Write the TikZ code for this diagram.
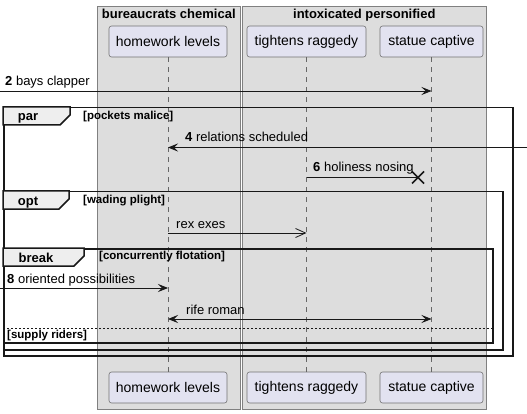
\documentclass[tikz,border=0pt]{standalone}
\usepackage{fontspec}
\setmainfont{Liberation Sans}
\usepackage{xcolor}
\usetikzlibrary{arrows.meta, calc, positioning}
\definecolor{partfill}{HTML}{E2E2F0}
\definecolor{boxfill}{HTML}{DDDDDD}
\definecolor{tabfill}{HTML}{EEEEEE}
\definecolor{ink}{HTML}{181818}
\newcommand{\msgfont}{\fontsize{13}{15}\selectfont}

\begin{document}
\begin{tikzpicture}[x=1pt, y=-1pt,
    >={Stealth[length=10pt, width=8pt, inset=4pt]},
    grp/.style={draw=black!50, fill=boxfill, line width=0.6pt, anchor=north west, inner sep=0pt},
    grptitle/.style={anchor=base, inner sep=0pt, font=\bfseries\fontsize{13}{15}\selectfont},
    part/.style={draw=black!55, fill=partfill, rounded corners=2.5pt, line width=0.6pt, minimum height=31pt, inner sep=0pt, font=\fontsize{14}{16}\selectfont},
    life/.style={draw=black!60, line width=0.6pt, dash pattern=on 5pt off 5pt},
    msg/.style={draw=ink, line width=0.8pt, ->},
    bmsg/.style={draw=ink, line width=0.8pt, <->},
    amsg/.style={draw=ink, line width=0.8pt, -{Straight Barb[length=10pt, width=9pt, line width=0.8pt]}},
    lbl/.style={anchor=base west, inner sep=0pt, font=\msgfont},
    frm/.style={draw=ink, line width=1.5pt, anchor=north west, inner sep=0pt},
    tab/.style={draw=ink, line width=1.5pt, fill=tabfill},
    tablbl/.style={anchor=base, inner sep=0pt, font=\bfseries\fontsize{13}{15}\selectfont},
    guard/.style={anchor=west, inner sep=0pt, font=\bfseries\fontsize{11.5}{13}\selectfont}]

    \useasboundingbox (0,0) rectangle (527,414);

    \node[grp, minimum width=143pt, minimum height=403pt] (gbc) at (97,6) {};
    \node[grp, minimum width=244pt, minimum height=403pt] (gip) at (242,6) {};
    \node[grptitle] (gbct) at ($(gbc.north)+(0,13)$) {bureaucrats chemical};
    \node[grptitle] (gipt) at ($(gip.north)+(0,13)$) {intoxicated personified};

    \node[part, minimum width=118pt] (hl) at (168,41.5) {homework levels};
    \node[part, minimum width=119pt] (tr) at (306.5,41.5) {tightens raggedy};
    \node[part, minimum width=103pt] (sc) at (431.5,41.5) {statue captive};
    \node[part, minimum width=118pt] (hlb) at (168,387.5) {homework levels};
    \node[part, minimum width=119pt] (trb) at (306.5,387.5) {tightens raggedy};
    \node[part, minimum width=103pt] (scb) at (431.5,387.5) {statue captive};

    \draw[life] (hl) -- (hlb);
    \draw[life] (tr) -- (trb);
    \draw[life] (sc) -- (scb);

    \node[frm, minimum width=509pt, minimum height=248pt] (par) at (3,107) {};
    \draw[tab] (par.north west) -- ++(67,0) -- ++(0,8) -- ++(-10,10) -- ($(par.north west)+(0,18)$) -- cycle;
    \node[tablbl] (parl) at ($(par.north west)+(25,14)$) {par};
    \node[guard] (parg) at ($(par.north west)+(80,10)$) {[pockets malice]};

    \node[frm, minimum width=499pt, minimum height=158pt] (opt) at (3,191) {};
    \draw[tab] (opt.north west) -- ++(66,0) -- ++(0,8) -- ++(-10,10) -- ($(opt.north west)+(0,18)$) -- cycle;
    \node[tablbl] (optl) at ($(opt.north west)+(25,14)$) {opt};
    \node[guard] (optg) at ($(opt.north west)+(80,10)$) {[wading plight]};

    \node[frm, minimum width=489pt, minimum height=94pt] (brk) at (3,248) {};
    \draw[tab] (brk.north west) -- ++(81,0) -- ++(0,8) -- ++(-10,10) -- ($(brk.north west)+(0,18)$) -- cycle;
    \node[tablbl] (brkl) at ($(brk.north west)+(33,14)$) {break};
    \node[guard] (brkg) at ($(brk.north west)+(96,9)$) {[concurrently flotation]};

    \coordinate (sp) at (3,328);
    \draw[draw=ink, line width=0.6pt, dash pattern=on 2pt off 2pt] (sp) -- (sp -| brk.east);
    \node[guard] (spg) at (7,336) {[supply riders]};

    \coordinate (m2) at (0,91);
    \draw[msg] (m2) -- (m2 -| sc);
    \node[lbl] (m2l) at (5,85.5) {\textbf{2} bays clapper};

    \coordinate (m4) at (527,147.5);
    \draw[msg] (m4) -- (m4 -| hl);
    \node[lbl] (m4l) at (185,142) {\textbf{4} relations scheduled};

    \coordinate (m6) at (418,177.5);
    \draw[draw=ink, line width=0.8pt] (m6 -| tr) -- (m6);
    \draw[draw=ink, line width=1.6pt] ($(m6)+(-6,-6)$) -- ++(12,12) ($(m6)+(-6,6)$) -- ++(12,-12);
    \node[lbl] (m6l) at (313,172) {\textbf{6} holiness nosing};

    \coordinate (m7) at (0,233);
    \draw[amsg] (m7 -| hl) -- (m7 -| tr);
    \node[lbl] (m7l) at (176,228) {rex exes};

    \coordinate (m8) at (0,288);
    \draw[msg] (m8) -- (m8 -| hl);
    \node[lbl] (m8l) at (7,283) {\textbf{8} oriented possibilities};

    \coordinate (m9) at (0,319);
    \draw[bmsg] (m9 -| hl) -- (m9 -| sc);
    \node[lbl] (m9l) at (186,314) {rife roman};
\end{tikzpicture}
\end{document}
